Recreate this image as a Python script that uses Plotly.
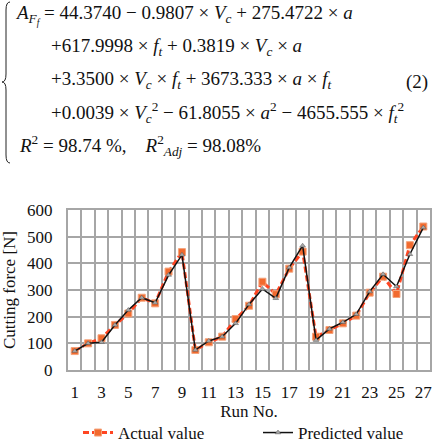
import plotly.graph_objects as go

runs = list(range(1, 28))
actual = [71, 100, 119, 169, 212, 271, 250, 369, 442, 75, 104, 125, 191, 241, 331, 284, 380,
          444, 125, 150, 175, 204, 290, 350, 285, 468, 538]
predicted = [71, 100, 104, 169, 225, 271, 252, 356, 432, 75, 109, 125, 175, 246, 304, 269, 384,
             466, 112, 154, 179, 209, 294, 359, 313, 434, 534]
x_ticks = list(range(1, 28, 2))
y_ticks = list(range(0, 601, 100))

eq_lines = [
    "<i>A</i><sub><i>F<sub>f</sub></i></sub> = 44.3740 − 0.9807 × <i>V</i><sub><i>c</i></sub> + 275.4722 × <i>a</i>",
    "+617.9998 × <i>f</i><sub><i>t</i></sub> + 0.3819 × <i>V</i><sub><i>c</i></sub> × <i>a</i>",
    "+3.3500 × <i>V</i><sub><i>c</i></sub> × <i>f</i><sub><i>t</i></sub> + 3673.333 × <i>a</i> × <i>f</i><sub><i>t</i></sub>",
    "+0.0039 × <i>V</i><sub><i>c</i></sub><sup>2</sup> − 61.8055 × <i>a</i><sup>2</sup> − 4655.555 × <i>f</i><sub><i>t</i></sub><sup>2</sup>",
    "<i>R</i><sup>2</sup> = 98.74 %,    <i>R</i><sup>2</sup><sub><i>Adj</i></sub> = 98.08%",
]
eq_x = [13, 49, 49, 49, 17]
eq_y = [15, 47, 80, 112, 145]

W, H = 434, 444
L, R, T, B = 68, 4, 210, 74
PW, PH = W - L - R, H - T - B


def px(x):
    return (x - L) / PW


def py(y):
    return (H - B - y) / PH


FONT = "Liberation Serif"

fig = go.Figure()
fig.add_trace(go.Scatter(
    x=runs, y=actual, name="Actual value", mode="lines+markers",
    line=dict(color="#FF4522", width=3, dash="6px,3px"),
    marker=dict(symbol="square", size=7, color="#F26A2E", line=dict(color="#F4A27A", width=1)),
))
fig.add_trace(go.Scatter(
    x=runs, y=predicted, name="Predicted value", mode="lines+markers",
    line=dict(color="#111111", width=1.5),
    marker=dict(symbol="triangle-up", size=5, color="#A8A8A8", line=dict(color="#555555", width=0.5)),
))

grid_col = "#A6A6A6"
fig.update_xaxes(
    range=[0.5, 27.5], tickmode="array", tickvals=x_ticks, ticktext=[str(v) for v in x_ticks],
    showgrid=False, zeroline=False, showline=True, linecolor=grid_col, linewidth=2, mirror=True,
    ticks="", ticklabelstandoff=6, automargin=False,
    minor=dict(tickvals=[i + 0.5 for i in range(0, 28)], showgrid=True, gridcolor=grid_col, gridwidth=1.5),
    tickfont=dict(family=FONT, size=17, color="#111"),
    title=dict(text="Run No.", font=dict(family=FONT, size=17, color="#111"), standoff=2),
)
fig.update_yaxes(
    range=[0, 600], tickmode="array", tickvals=y_ticks,
    showgrid=True, gridcolor=grid_col, gridwidth=1.5, zeroline=False,
    showline=True, linecolor=grid_col, linewidth=2, mirror=True,
    ticks="", ticklabelstandoff=10, automargin=False,
    tickfont=dict(family=FONT, size=17, color="#111"),
    title=dict(text="Cutting force [N]", font=dict(family=FONT, size=17, color="#111"), standoff=8),
)

for t, x, y in zip(eq_lines, eq_x, eq_y):
    fig.add_annotation(text=t, xref="paper", yref="paper", x=px(x), y=py(y),
                       xanchor="left", yanchor="middle", showarrow=False,
                       font=dict(family=FONT, size=19, color="#111"))
fig.add_annotation(text="(2)", xref="paper", yref="paper", x=px(430), y=py(82),
                   xanchor="right", yanchor="middle", showarrow=False,
                   font=dict(family=FONT, size=19, color="#111"))

brace_pts = "M {a},{b} Q {c},{b} {c},{d} L {c},{e} Q {c},{f} {g},{f} Q {c},{f} {c},{h} L {c},{i} Q {c},{j} {a},{j}"
path = brace_pts.format(
    a=px(10), b=py(2), c=px(6), d=py(10), e=py(74), f=py(82), g=px(2), h=py(90), i=py(155), j=py(163))
fig.add_shape(type="path", path=path, xref="paper", yref="paper",
              line=dict(color="#222", width=1))

fig.update_layout(
    width=W, height=H, margin=dict(l=L, r=R, t=T, b=B, autoexpand=False),
    paper_bgcolor="white", plot_bgcolor="white",
    font=dict(family=FONT, size=17, color="#111"),
    showlegend=True,
    legend=dict(orientation="h", x=px(78), y=py(433), xanchor="left", yanchor="middle",
                font=dict(family=FONT, size=17, color="#111"), entrywidth=135,
                bgcolor="rgba(0,0,0,0)", tracegroupgap=0),
)

fig.write_html("out.html")
